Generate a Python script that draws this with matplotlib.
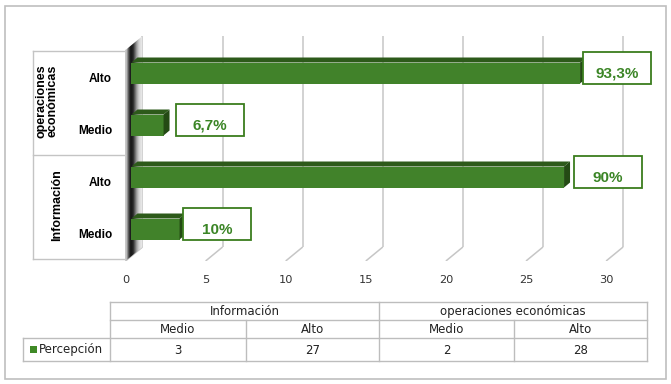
import numpy as np
import matplotlib
matplotlib.use('Agg')
import matplotlib.pyplot as plt
from matplotlib.patches import Polygon, Rectangle

# ---------------- data ----------------
categories = ['Medio', 'Alto', 'Medio', 'Alto']
group_names = ['Información', 'operaciones\neconómicas']
group_table_names = ['Información', 'operaciones económicas']
values = [3, 27, 2, 28]
pct_labels = ['10%', '90%', '6,7%', '93,3%']
series_name = 'Percepción'
xticks = [0, 5, 10, 15, 20, 25, 30]

# ---------------- style ----------------
W, H = 671, 384
PXX, PXY = 16.02, 52.0
ax_left_px, ax_right_px, ax_top_px, ax_bot_px = 125.5, 662, 28, 261
cat0_px = 233
label_offsets_px = [3.5, 10, 12.5, 3]
FRONT, TOP, SIDE = '#41822a', '#2d5a1a', '#244a14'
LBL_GREEN = '#3b8526'
GRID = '#c6c6c6'
LINE = '#c4c4c4'
BOLD_FONT = ['Liberation Sans', 'DejaVu Sans']
TAB_FONT = ['DejaVu Sans']

fig = plt.figure(figsize=(W / 100, H / 100), dpi=100)

# background axes in pixel coordinates
bg = fig.add_axes([0, 0, 1, 1], zorder=0)
bg.set_xlim(0, W)
bg.set_ylim(H, 0)
bg.axis('off')

ax = fig.add_axes([ax_left_px / W, 1 - ax_bot_px / H,
                   (ax_right_px - ax_left_px) / W, (ax_bot_px - ax_top_px) / H], zorder=1)
ax.patch.set_alpha(0)
for s in ax.spines.values():
    s.set_visible(False)

def dxp(p):
    return p / PXX

def dyp(p):
    return p / PXY

ylo = -(ax_bot_px - cat0_px) / PXY
yhi = (cat0_px - ax_top_px) / PXY
xlo, xhi = 0, (ax_right_px - ax_left_px) / PXX

y_floor_back = ylo + dyp(14)
y_top_back = (cat0_px - 36) / PXY
y_top_front = (cat0_px - 50) / PXY
DX, DY = 17, 14

# gridlines (3D style)
for v in xticks:
    ax.plot([v, v + dxp(DX)], [ylo, y_floor_back], color=GRID, lw=1.1, zorder=1,
            solid_capstyle='butt')
    ax.plot([v + dxp(DX)] * 2, [y_floor_back, y_top_back], color=GRID, lw=1.1, zorder=1,
            solid_capstyle='butt')

# wall with gradient
wall_pts = [(0, ylo), (0, y_top_front), (dxp(DX), y_top_back), (dxp(DX), y_floor_back)]
wall = Polygon(wall_pts, closed=True, fc='none', ec='none', transform=ax.transData)
ax.add_patch(wall)
grad = np.array([[0.85, 0.6, 0.3, 0.12, 0.1, 0.2, 0.4, 0.6, 0.75, 0.85, 0.9]])
im = ax.imshow(grad, extent=[0, dxp(DX), ylo, y_top_back], aspect='auto', cmap='gray',
               vmin=0, vmax=1, interpolation='bilinear', zorder=2)
im.set_clip_path(wall)
ax.plot([0, 0], [ylo, y_top_front], color='#c8c8c8', lw=1, zorder=2)

# bars
yc = np.arange(len(values)) + dyp(4)
h = dyp(21)
x0 = dxp(6)
ax.barh(yc, values, left=x0, height=h, color=FRONT, zorder=3)
for i, v in enumerate(values):
    top = yc[i] + h / 2
    bot = yc[i] - h / 2
    xe = x0 + v
    ax.add_patch(Polygon([(x0, top), (xe, top), (xe + dxp(6), top + dyp(5)),
                          (x0 + dxp(6), top + dyp(5))], closed=True, fc=TOP, ec='none', zorder=3))
    ax.add_patch(Polygon([(xe, bot), (xe, top), (xe + dxp(6), top + dyp(5)),
                          (xe + dxp(6), bot + dyp(5))], closed=True, fc=SIDE, ec='none', zorder=3))
    bl = xe + dxp(label_offsets_px[i])
    ax.add_patch(Rectangle((bl, bot), dxp(68), dyp(31.5), fc='white', ec='#3a7d1e',
                           lw=1.3, zorder=4))
    ax.text(bl + dxp(34), bot + dyp(9.5), pct_labels[i], ha='center', va='center',
            fontsize=11, fontweight='bold', color=LBL_GREEN, family=BOLD_FONT, zorder=5)

ax.set_xlim(xlo, xhi)
ax.set_ylim(ylo, yhi)
ax.set_xticks(xticks)
ax.set_xticklabels([str(t) for t in xticks], fontsize=8.2, color='#333333', family=TAB_FONT)
ax.set_yticks(range(len(categories)))
ax.set_yticklabels(categories, fontsize=8.5, fontweight='bold', family=BOLD_FONT)
ax.tick_params(axis='x', length=0, pad=10)
ax.tick_params(axis='y', length=0, pad=9.7)

# outer frame
bg.add_patch(Rectangle((5, 6), 661, 373, fc='none', ec='#bfbfbf', lw=1.2))

# hierarchical category axis lines
bg.plot([33, 33], [51, 259], color=LINE, lw=1)
for yy in [51, 154.5, 259]:
    bg.plot([33, 126], [yy, yy], color=LINE, lw=1)
bg.text(47, 101, group_names[1], rotation=90, ha='center', va='center', fontsize=9,
        fontweight='bold', family=BOLD_FONT, linespacing=1.0, multialignment='center')
bg.text(57, 205, group_names[0], rotation=90, ha='center', va='center', fontsize=9,
        fontweight='bold', family=BOLD_FONT)

# data table
cols = [110, 246, 379, 514, 647]
rows = [302, 320, 338, 361]
TL = '#bdbdbd'
bg.plot([cols[0], cols[-1]], [rows[0], rows[0]], color=TL, lw=1)
bg.plot([cols[0], cols[-1]], [rows[1], rows[1]], color=TL, lw=1)
bg.plot([23, cols[-1]], [rows[2], rows[2]], color=TL, lw=1)
bg.plot([23, cols[-1]], [rows[3], rows[3]], color=TL, lw=1)
for c in [cols[0], cols[2], cols[4]]:
    bg.plot([c, c], [rows[0], rows[3]], color=TL, lw=1)
for c in [cols[1], cols[3]]:
    bg.plot([c, c], [rows[1], rows[3]], color=TL, lw=1)
bg.plot([23, 23], [rows[2], rows[3]], color=TL, lw=1)

tab_kw = dict(ha='center', va='center', fontsize=8.5, color='#222222', family=TAB_FONT)
for g in range(2):
    bg.text((cols[2 * g] + cols[2 * g + 2]) / 2, (rows[0] + rows[1]) / 2 + 0.5,
            group_table_names[g], **tab_kw)
for j in range(4):
    bg.text((cols[j] + cols[j + 1]) / 2, (rows[1] + rows[2]) / 2 + 0.5, categories[j], **tab_kw)
    bg.text((cols[j] + cols[j + 1]) / 2, (rows[2] + rows[3]) / 2 + 0.5, str(values[j]), **tab_kw)
bg.add_patch(Rectangle((30, 346), 7, 7, fc='#3f8a26', ec='none'))
bg.text(39, (rows[2] + rows[3]) / 2 + 0.5, series_name, ha='left', va='center', fontsize=8.5,
        color='#222222', family=TAB_FONT)

fig.savefig('out.png', dpi=100)
